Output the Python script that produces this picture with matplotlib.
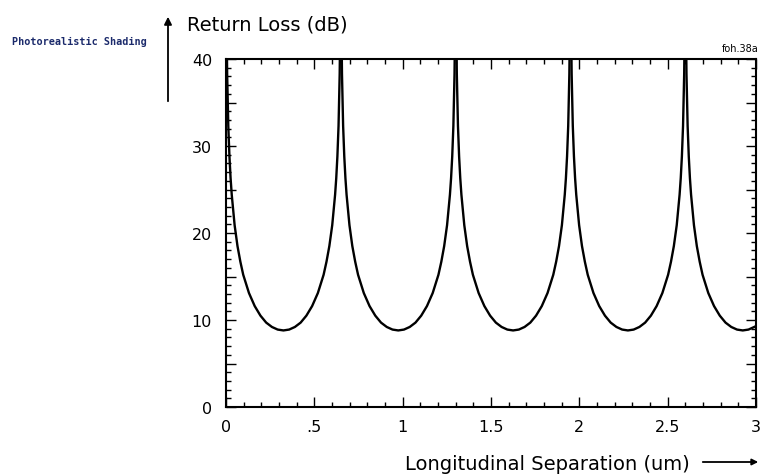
import matplotlib
matplotlib.use("Agg")
import matplotlib.pyplot as plt
from matplotlib.ticker import MultipleLocator

# ---- data (return loss vs. separation, lobes between peaks) ----
sep_lobe0 = [0, 0.0033, 0.0065, 0.013, 0.0195, 0.026, 0.0325, 0.0488, 0.065, 0.0813, 0.0975,
             0.13, 0.1625, 0.195, 0.2275, 0.26, 0.2925, 0.325, 0.3575, 0.39, 0.4225, 0.455,
             0.4875, 0.52, 0.5525, 0.5688, 0.585, 0.6013, 0.6175, 0.624, 0.6305, 0.637,
             0.6435, 0.6468, 0.65]
sep_lobe1 = [0.65, 0.6533, 0.6565, 0.663, 0.6695, 0.676, 0.6825, 0.6988, 0.715, 0.7313, 0.7475,
             0.78, 0.8125, 0.845, 0.8775, 0.91, 0.9425, 0.975, 1.0075, 1.04, 1.0725, 1.105,
             1.1375, 1.17, 1.2025, 1.2188, 1.235, 1.2513, 1.2675, 1.274, 1.2805, 1.287,
             1.2935, 1.2968, 1.3]
sep_lobe2 = [1.3, 1.3033, 1.3065, 1.313, 1.3195, 1.326, 1.3325, 1.3488, 1.365, 1.3813, 1.3975,
             1.43, 1.4625, 1.495, 1.5275, 1.56, 1.5925, 1.625, 1.6575, 1.69, 1.7225, 1.755,
             1.7875, 1.82, 1.8525, 1.8688, 1.885, 1.9013, 1.9175, 1.924, 1.9305, 1.937,
             1.9435, 1.9468, 1.95]
sep_lobe3 = [1.95, 1.9533, 1.9565, 1.963, 1.9695, 1.976, 1.9825, 1.9988, 2.015, 2.0313, 2.0475,
             2.08, 2.1125, 2.145, 2.1775, 2.21, 2.2425, 2.275, 2.3075, 2.34, 2.3725, 2.405,
             2.4375, 2.47, 2.5025, 2.5188, 2.535, 2.5513, 2.5675, 2.574, 2.5805, 2.587,
             2.5935, 2.5968, 2.6]
sep_lobe4 = [2.6, 2.6033, 2.6065, 2.613, 2.6195, 2.626, 2.6325, 2.6488, 2.665, 2.6813, 2.6975,
             2.73, 2.7625, 2.795, 2.8275, 2.86, 2.8925, 2.925, 2.9575, 2.99, 3.0]

rl_full_lobe = [60, 44.3, 38.3, 32.3, 28.8, 26.3, 24.4, 20.9, 18.5, 16.7, 15.2,
                13.1, 11.6, 10.5, 9.7, 9.2, 8.9, 8.8, 8.9, 9.2, 9.7, 10.5,
                11.6, 13.1, 15.2, 16.7, 18.5, 20.9, 24.4, 26.3, 28.8, 32.3,
                38.3, 44.3, 60]
rl_last_lobe = [60, 44.3, 38.3, 32.3, 28.8, 26.3, 24.4, 20.9, 18.5, 16.7, 15.2,
                13.1, 11.6, 10.5, 9.7, 9.2, 8.9, 8.8, 8.9, 9.2, 9.3]

x_tick_values = [0, 0.5, 1, 1.5, 2, 2.5, 3]
x_tick_labels = ["0", ".5", "1", "1.5", "2", "2.5", "3"]
y_tick_values = [0, 5, 10, 15, 20, 25, 30, 35, 40]
y_tick_labels = ["0", "", "10", "", "20", "", "30", "", "40"]

W, H = 760, 477
fig = plt.figure(figsize=(W / 100, H / 100), dpi=100)
fig.patch.set_facecolor("white")
ax = fig.add_axes([226 / W, 1 - 408 / H, 530 / W, 348 / H])

for xs, ys in [(sep_lobe0, rl_full_lobe), (sep_lobe1, rl_full_lobe), (sep_lobe2, rl_full_lobe),
               (sep_lobe3, rl_full_lobe), (sep_lobe4, rl_last_lobe)]:
    ax.plot(xs, ys, color="black", lw=1.7, solid_joinstyle="round")

ax.set_xlim(0, 3)
ax.set_ylim(0, 40)
ax.set_xticks(x_tick_values, labels=x_tick_labels)
ax.set_yticks(y_tick_values, labels=y_tick_labels)
ax.xaxis.set_minor_locator(MultipleLocator(0.1))
ax.yaxis.set_minor_locator(MultipleLocator(1))
ax.tick_params(which="both", direction="in", top=True, right=True, width=1.0,
               labelsize=11.5, colors="black")
ax.tick_params(which="major", length=7)
ax.tick_params(which="minor", length=3.5)
ax.tick_params(axis="x", pad=9)
ax.tick_params(axis="y", pad=10)
for sp in ax.spines.values():
    sp.set_linewidth(1.5)

def fx(px):
    return px / W

def fy(py):
    return 1 - py / H

fig.text(fx(187), fy(25), "Return Loss (dB)", fontsize=14, ha="left", va="center")
fig.text(fx(690), fy(465), "Longitudinal Separation (um)", fontsize=14, ha="right", va="center")
fig.text(fx(759), fy(49), "foh.38a", fontsize=7, ha="right", va="center")
fig.text(fx(12), fy(42), "Photorealistic Shading", fontsize=7.3, ha="left", va="center",
         family="DejaVu Sans Mono", fontweight="bold", color="#1b2a6b")

ax.annotate("", xy=(168, H - 15), xytext=(168, H - 105), xycoords="figure pixels",
            textcoords="figure pixels",
            arrowprops=dict(arrowstyle="-|>", lw=1.3, color="black", mutation_scale=11))
ax.annotate("", xy=(761, H - 463), xytext=(700, H - 463), xycoords="figure pixels",
            textcoords="figure pixels",
            arrowprops=dict(arrowstyle="-|>", lw=1.3, color="black", mutation_scale=9))

fig.savefig("out.png", dpi=100)
